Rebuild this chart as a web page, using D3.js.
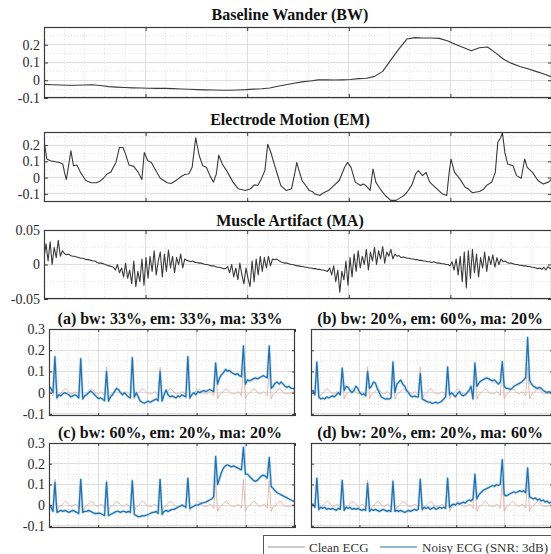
<!DOCTYPE html>
<html><head><meta charset="utf-8">
<script src="https://cdn.jsdelivr.net/npm/d3@7"></script>
<style>body{margin:0;background:#fff;}svg{display:block;}</style>
</head><body>
<svg id="c" width="551" height="554"></svg>
<script>
// ---------- DATA ----------
const titlesTop = ["Baseline Wander (BW)", "Electrode Motion (EM)", "Muscle Artifact (MA)"];
const titlesMix = ["(a) bw: 33%, em: 33%, ma: 33%", "(b) bw: 20%, em: 60%, ma: 20%",
                   "(c) bw: 60%, em: 20%, ma: 20%", "(d) bw: 20%, em: 20%, ma: 60%"];
const legendLabels = ["Clean ECG", "Noisy ECG (SNR: 3dB)"];
const noiseTicks = [-0.1, 0, 0.1, 0.2];
const maTicks = [-0.05, 0, 0.05];
const ecgTicks = [-0.1, 0, 0.1, 0.2, 0.3];
const timeTicks = [0, 1, 2, 3, 4, 5];

// Baseline wander, uniform samples over 0..5 s
const bwValues = [-0.023,-0.025,-0.027,-0.028,-0.028,-0.027,-0.025,-0.030,-0.036,-0.039,
 -0.041,-0.043,-0.044,-0.045,-0.046,-0.046,-0.047,-0.049,-0.051,-0.053,
 -0.054,-0.055,-0.056,-0.056,-0.055,-0.053,-0.050,-0.048,-0.044,-0.034,
 -0.025,-0.017,-0.009,-0.004,0.002,0.003,0.001,0.002,0.004,0.009,
 0.011,0.022,0.050,0.113,0.175,0.232,0.240,0.238,0.238,0.236,
 0.222,0.203,0.184,0.166,0.183,0.187,0.154,0.118,0.095,0.078,
 0.065,0.050,0.035,0.018];

// Electrode motion, (time s, value)
const emTime = [0,0.028,0.063,0.150,0.185,0.202,0.220,0.265,0.290,0.324,0.359,0.412,0.464,0.516,0.550,0.586,0.620,0.656,0.708,0.743,0.778,0.803,
 0.837,0.883,0.928,0.963,0.987,1.022,1.057,1.092,1.144,1.214,1.250,1.284,1.320,1.354,1.390,1.424,1.458,1.493,1.528,1.563,1.598,1.633,1.668,
 1.696,1.720,1.755,1.807,1.860,1.912,1.982,2.034,2.069,2.104,2.139,2.174,2.202,2.233,2.261,2.296,2.331,2.383,2.436,2.470,
 2.488,2.505,2.540,2.610,2.640,2.662,2.715,2.740,2.767,2.800,2.837,2.906,2.959,2.987,3.022,3.064,3.116,3.140,3.168,3.210,3.238,3.266,3.308,3.360,
 3.412,3.465,3.517,3.540,3.569,3.622,3.657,3.685,3.726,3.761,3.796,3.849,3.918,3.964,3.988,4.006,4.041,4.093,4.145,4.180,4.215,4.285,4.320,
 4.355,4.407,4.442,4.466,4.494,4.512,4.536,4.564,4.616,4.651,4.697,4.731,4.756,4.808,4.861,4.913,4.965,5.0];
const emValues = [0.225,0.114,0.103,0.093,0.083,0.032,-0.012,0.164,0.073,0.077,0.032,-0.018,-0.032,-0.032,-0.022,-0.004,0.022,0.032,0.093,0.185,0.185,0.144,
 0.077,0.069,0.032,-0.012,0.154,0.103,0.093,0.053,-0.004,-0.032,-0.036,-0.024,-0.008,0.008,0.020,0.022,0.063,0.245,0.134,0.073,0.063,0.012,-0.028,
 0.022,0.138,0.083,0.032,-0.028,-0.069,-0.079,-0.069,-0.045,-0.049,-0.008,0.043,0.205,0.154,0.093,0.022,-0.049,-0.079,-0.069,0.032,
 0.093,0.053,-0.018,-0.079,-0.085,-0.099,-0.110,-0.098,-0.089,-0.080,-0.059,-0.018,0.063,0.093,0.063,-0.028,-0.049,-0.040,-0.049,-0.079,0.053,-0.028,-0.069,-0.110,
 -0.140,-0.140,-0.120,-0.112,-0.093,-0.045,0.022,0.043,0.012,0.032,-0.028,-0.059,-0.099,-0.110,0.032,0.114,0.032,-0.008,-0.059,-0.072,-0.093,-0.085,-0.075,
 -0.049,-0.028,0.032,0.215,0.245,0.276,0.154,0.083,0.073,0.012,-0.004,0.114,0.063,0.032,-0.018,-0.039,-0.028,-0.008];

// Muscle artifact, uniform samples over 0..5 s
const maValues = [0.01,0.03,0.005,0.033,0.0,0.025,0.01,0.035,0.012,0.02,
 0.016,0.014,0.015,0.013,0.012,0.012,0.011,0.01,0.009,0.009,
 0.008,0.007,0.007,0.006,0.005,0.005,0.003,0.002,0.002,0.001,
 0.0,-0.001,-0.002,-0.003,-0.004,-0.008,0.0,-0.012,-0.005,-0.018,
 0.002,-0.02,-0.008,-0.028,0.005,-0.032,-0.01,-0.025,0.008,-0.03,
 0.01,-0.02,0.012,-0.01,0.02,-0.015,0.005,0.018,-0.018,0.015,
 -0.01,0.021,-0.005,0.012,-0.012,0.01,0.0,0.015,-0.005,0.008,
 0.006,0.005,0.004,0.005,0.003,0.003,0.002,0.002,0.001,0.0,
 0.0,-0.001,-0.002,-0.002,-0.003,-0.004,-0.004,-0.005,-0.006,-0.006,
 -0.003,-0.012,0.0,-0.018,-0.005,-0.022,0.002,-0.015,-0.028,-0.005,
 -0.02,-0.032,0.005,-0.025,0.008,-0.015,0.012,-0.01,0.01,-0.005,
 0.012,-0.002,0.008,0.007,0.008,0.006,0.004,0.003,0.002,0.002,
 0.001,0.0,0.0,-0.001,-0.002,-0.002,-0.003,-0.003,-0.004,-0.004,
 -0.005,-0.005,-0.006,-0.006,-0.007,-0.007,-0.008,-0.008,-0.009,-0.01,
 -0.005,-0.015,-0.002,-0.025,-0.008,-0.04,-0.01,-0.022,0.005,-0.03,
 0.01,-0.018,0.015,-0.01,0.02,-0.005,0.012,0.0,0.022,-0.008,
 0.018,0.005,0.025,0.0,0.02,0.008,0.026,0.002,0.018,0.012,
 0.022,0.008,0.015,0.012,0.013,0.01,0.011,0.01,0.009,0.009,
 0.008,0.008,0.007,0.007,0.006,0.006,0.005,0.005,0.004,0.004,
 0.003,0.004,0.003,0.002,0.002,0.001,0.001,0.0,0.0,-0.002,
 0.004,-0.008,0.008,-0.015,0.012,-0.025,0.018,-0.034,0.02,-0.02,
 0.022,-0.012,0.015,-0.018,0.01,-0.005,0.018,-0.01,0.012,0.0,
 0.014,-0.004,0.01,0.0,0.008,0.004,0.005,0.003,0.002,0.002,
 0.001,0.0,0.0,-0.001,-0.001,-0.002,-0.002,-0.003,-0.003,-0.004,
 -0.004,-0.005,-0.006,-0.005,-0.007,-0.004,-0.008,-0.003,-0.006,-0.005];

// Clean ECG, uniform samples over 0..5 s (same in all four mixes)
const cleanEcg = [0.005,0.0,-0.015,0.125,-0.03,-0.008,-0.003,0.008,0.018,0.015,0.002,-0.005,-0.005,
 0.005,0.0,-0.015,0.12,-0.03,-0.008,-0.003,0.008,0.018,0.015,0.002,-0.005,-0.005,
 0.005,0.0,-0.015,0.122,-0.03,-0.008,-0.003,0.008,0.018,0.015,0.002,-0.005,-0.005,
 0.005,0.0,-0.015,0.124,-0.03,-0.008,-0.003,0.008,0.018,0.015,0.002,-0.005,-0.005,-0.005,
 0.005,0.0,-0.015,0.12,-0.03,-0.008,-0.003,0.008,0.018,0.015,0.002,-0.005,-0.005,-0.005,
 0.005,0.0,-0.015,0.126,-0.03,-0.008,-0.003,0.008,0.018,0.015,0.002,-0.005,-0.005,-0.005,
 0.005,0.0,-0.015,0.122,-0.03,-0.008,-0.003,0.008,0.018,0.015,0.002,-0.005,-0.005,-0.005,
 0.005,0.0,-0.015,0.124,-0.03,-0.008,-0.003,0.008,0.018,0.015,0.002,-0.005,-0.005,
 0.005,0.0,-0.015,0.12,-0.03,-0.008,-0.003,0.008,0.018,0.015,0.002,-0.005,-0.005,-0.005,-0.005,
 0.005,0.0];

const noisyA = [0.03,0.02,0.0,0.17,-0.025,-0.01,-0.015,-0.005,0.0,-0.005,
 -0.01,-0.02,-0.015,-0.01,-0.015,-0.025,0.16,-0.03,-0.015,-0.01,
 0.0,0.008,0.0,-0.01,-0.02,-0.028,-0.025,-0.03,-0.038,0.1,
 -0.04,-0.02,-0.01,0.005,0.02,0.015,0.0,-0.01,0.0,-0.01,
 -0.02,-0.025,0.165,-0.02,0.0,-0.02,-0.04,-0.045,-0.05,-0.045,
 -0.04,-0.045,-0.04,-0.035,-0.03,-0.038,0.1,-0.04,-0.01,0.012,
 -0.01,-0.02,-0.015,-0.02,-0.025,-0.015,-0.02,-0.01,-0.015,-0.02,
 0.17,-0.025,-0.01,0.0,-0.01,0.005,0.0,0.005,0.01,0.005,
 0.01,0.015,0.01,0.005,0.14,0.04,0.07,0.085,0.095,0.11,
 0.1,0.105,0.095,0.09,0.085,0.09,0.08,0.075,0.22,0.04,
 0.06,0.055,0.06,0.065,0.07,0.065,0.07,0.075,0.08,0.075,
 0.07,0.22,0.02,0.03,0.045,0.05,0.04,0.05,0.04,0.03,
 0.025,0.03,0.02,0.02,0.015];
const noisyB = [0.0,0.01,-0.01,0.145,-0.02,-0.03,-0.025,-0.03,-0.02,-0.025,
 -0.02,-0.015,-0.02,-0.01,0.0,-0.01,0.115,0.01,0.03,0.025,
 0.01,0.0,0.01,0.03,0.02,0.0,-0.01,-0.005,-0.015,0.1,
 0.02,0.03,0.05,0.045,0.02,0.0,-0.02,-0.025,-0.03,-0.028,
 -0.03,-0.025,0.145,0.0,0.04,0.05,0.06,0.04,0.03,0.01,
 0.0,-0.015,-0.02,-0.015,-0.02,-0.02,0.09,-0.03,-0.035,-0.04,
 -0.045,-0.045,-0.05,-0.048,-0.045,-0.05,-0.045,-0.04,-0.03,-0.02,
 0.12,-0.01,0.0,-0.01,-0.02,-0.005,0.005,-0.01,-0.015,-0.01,
 0.0,0.01,0.03,-0.03,0.14,0.03,0.045,0.055,0.06,0.065,
 0.07,0.065,0.06,0.055,0.06,0.05,0.04,0.05,0.146,0.03,
 0.02,0.02,0.015,0.02,0.03,0.035,0.04,0.045,0.05,0.06,
 0.07,0.26,0.06,0.04,0.03,0.025,0.02,0.025,0.02,0.01,
 0.005,0.0,0.005,0.0,0.0];
const noisyC = [0.0,-0.01,-0.03,0.11,-0.035,-0.03,-0.025,-0.03,-0.025,-0.03,
 -0.035,-0.03,-0.025,-0.03,-0.035,-0.04,0.125,-0.035,-0.03,-0.03,
 -0.025,-0.03,-0.035,-0.04,-0.04,-0.038,-0.04,-0.045,-0.05,0.11,
 -0.05,-0.045,-0.04,-0.035,-0.03,-0.03,-0.035,-0.03,-0.03,-0.035,
 -0.03,-0.035,0.117,-0.045,-0.05,-0.055,-0.055,-0.05,-0.052,-0.048,
 -0.045,-0.04,-0.035,-0.035,-0.03,-0.04,0.125,-0.045,-0.03,-0.025,
 -0.03,-0.025,-0.02,-0.02,-0.015,-0.01,-0.005,0.0,-0.005,-0.01,
 0.13,-0.015,-0.01,-0.005,0.0,0.0,0.005,0.01,0.012,0.015,
 0.02,0.025,0.03,0.04,0.235,0.1,0.13,0.16,0.18,0.19,
 0.195,0.19,0.185,0.19,0.185,0.18,0.175,0.17,0.28,0.15,
 0.15,0.14,0.13,0.12,0.115,0.12,0.13,0.14,0.145,0.14,
 0.13,0.23,0.09,0.08,0.07,0.06,0.055,0.05,0.045,0.04,
 0.035,0.03,0.025,0.02,0.02];
const noisyD = [0.0,0.005,-0.01,0.13,-0.02,-0.01,-0.015,-0.01,-0.02,-0.015,
 -0.02,-0.015,-0.02,-0.025,-0.015,-0.02,0.12,-0.025,-0.01,-0.015,
 -0.01,-0.02,-0.015,-0.02,-0.015,-0.02,-0.025,-0.02,-0.025,0.105,
 -0.03,-0.02,-0.025,-0.02,-0.025,-0.03,-0.025,-0.02,-0.025,-0.03,
 -0.025,-0.03,0.115,-0.03,-0.025,-0.03,-0.025,-0.03,-0.035,-0.03,
 -0.025,-0.03,-0.025,-0.02,-0.025,-0.02,0.125,-0.02,-0.01,-0.015,
 -0.01,-0.02,-0.015,-0.01,-0.02,-0.015,-0.01,-0.015,-0.01,-0.015,
 0.13,-0.01,0.0,0.005,0.0,0.01,0.005,0.01,0.015,0.01,
 0.02,0.025,0.02,0.03,0.15,0.03,0.05,0.06,0.07,0.075,
 0.08,0.085,0.09,0.095,0.09,0.1,0.095,0.1,0.22,0.05,
 0.045,0.05,0.055,0.06,0.065,0.06,0.065,0.07,0.065,0.07,
 0.06,0.18,0.04,0.035,0.03,0.035,0.025,0.03,0.02,0.025,
 0.015,0.02,0.01,0.015,0.01];

// ---------- DRAWING ----------
const svg = d3.select("#c");
const SERIF = "'Liberation Serif','Times New Roman',serif";
let clipN = 0;
const fmt = d => (d === 0 ? "0" : String(d));

function panel(o) {
  const xs = d3.scaleLinear().domain([0, 5]).range([o.x0, o.x1]);
  const ys = d3.scaleLinear().domain(o.yDom).range([o.y1, o.y0]);
  const g = svg.append("g");
  const cid = "clip" + (++clipN);
  svg.append("clipPath").attr("id", cid).append("rect")
    .attr("x", o.x0).attr("y", o.y0).attr("width", o.x1 - o.x0).attr("height", o.y1 - o.y0);

  // minor grid
  const xMinor = d3.range(0, 5.001, 0.2).filter(v => Math.abs(v - Math.round(v)) > 1e-6);
  const yStep = o.yMinorStep;
  const yMinor = d3.range(Math.ceil(o.yDom[0] / yStep) * yStep, o.yDom[1] + 1e-9, yStep)
    .filter(v => !o.yTicks.some(t => Math.abs(t - v) < 1e-6));
  g.append("g").selectAll("line").data(xMinor).join("line")
    .attr("x1", d => xs(d)).attr("x2", d => xs(d)).attr("y1", o.y0).attr("y2", o.y1)
    .attr("stroke", "#e6e6e6").attr("stroke-dasharray", "1,2").attr("shape-rendering", "crispEdges");
  g.append("g").selectAll("line").data(yMinor).join("line")
    .attr("y1", d => ys(d)).attr("y2", d => ys(d)).attr("x1", o.x0).attr("x2", o.x1)
    .attr("stroke", "#e6e6e6").attr("stroke-dasharray", "1,2").attr("shape-rendering", "crispEdges");
  // major grid
  g.append("g").selectAll("line").data(timeTicks.slice(1, -1)).join("line")
    .attr("x1", d => xs(d)).attr("x2", d => xs(d)).attr("y1", o.y0).attr("y2", o.y1)
    .attr("stroke", "#dedede").attr("shape-rendering", "crispEdges");
  g.append("g").selectAll("line").data(o.yTicks).join("line")
    .attr("y1", d => ys(d)).attr("y2", d => ys(d)).attr("x1", o.x0).attr("x2", o.x1)
    .attr("stroke", "#dedede").attr("shape-rendering", "crispEdges");

  // series
  o.series.forEach(s => {
    const line = d3.line()
      .x((d, i) => xs(s.time ? s.time[i] : i * 5 / (s.values.length - 1)))
      .y(d => ys(d));
    if (s.halo) {
      g.append("path").datum(s.values).attr("d", line)
        .attr("fill", "none").attr("stroke", s.halo).attr("stroke-width", s.width + 1.6)
        .attr("stroke-opacity", 0.55).attr("stroke-linejoin", "round").attr("clip-path", `url(#${cid})`);
    }
    g.append("path").datum(s.values).attr("d", line)
      .attr("fill", "none").attr("stroke", s.color).attr("stroke-width", s.width)
      .attr("stroke-linejoin", "round").attr("clip-path", `url(#${cid})`);
  });

  // axes (ticks inside, all four sides)
  const tl = o.tickLen;
  const styleAxis = sel => {
    sel.select(".domain").remove();
    sel.selectAll("line").attr("stroke", "#3a3a3a");
    sel.selectAll("text").attr("font-family", SERIF).attr("font-size", 14).attr("fill", "#2a2a2a");
  };
  g.append("g").attr("transform", `translate(${o.x0},0)`)
    .call(d3.axisLeft(ys).tickValues(o.yTicks).tickSizeInner(-tl).tickSizeOuter(0).tickPadding(o.pad)
      .tickFormat(o.labels ? fmt : () => "")).call(styleAxis);
  g.append("g").attr("transform", `translate(${o.x1},0)`)
    .call(d3.axisRight(ys).tickValues(o.yTicks).tickSizeInner(-tl).tickSizeOuter(0).tickFormat(() => ""))
    .call(styleAxis);
  g.append("g").attr("transform", `translate(0,${o.y1})`)
    .call(d3.axisBottom(xs).tickValues(timeTicks).tickSizeInner(-tl).tickSizeOuter(0).tickFormat(() => ""))
    .call(styleAxis);
  g.append("g").attr("transform", `translate(0,${o.y0})`)
    .call(d3.axisTop(xs).tickValues(timeTicks).tickSizeInner(-tl).tickSizeOuter(0).tickFormat(() => ""))
    .call(styleAxis);

  // box
  g.append("rect").attr("x", o.x0 + 0.5).attr("y", o.y0 + 0.5)
    .attr("width", o.x1 - o.x0 - 1).attr("height", o.y1 - o.y0 - 1)
    .attr("fill", "none").attr("stroke", "#3a3a3a").attr("stroke-width", 1.2);

  // title
  svg.append("text").attr("x", o.titleX).attr("y", o.titleY).attr("text-anchor", "middle")
    .attr("font-family", SERIF).attr("font-weight", "bold").attr("font-size", 16).attr("fill", "#111")
    .text(o.title);
}

const noiseColor = "#3a3a3a";
const cleanColor = "#e0b3a8";
const noisyColor = "#2470ad";
const noisyHalo = "#9fd0ee";

panel({ x0: 44, x1: 552, y0: 27, y1: 98, yDom: [-0.1, 0.3], yTicks: noiseTicks, yMinorStep: 0.05,
  labels: true, pad: 4, tickLen: 4, title: titlesTop[0], titleX: 290, titleY: 20,
  series: [{ values: bwValues, color: noiseColor, width: 1.1 }] });
panel({ x0: 44, x1: 552, y0: 132, y1: 202, yDom: [-0.15, 0.28], yTicks: noiseTicks, yMinorStep: 0.05,
  labels: true, pad: 4, tickLen: 4, title: titlesTop[1], titleX: 290, titleY: 125,
  series: [{ time: emTime, values: emValues, color: noiseColor, width: 1.1 }] });
panel({ x0: 44, x1: 552, y0: 230, y1: 299, yDom: [-0.05, 0.05], yTicks: maTicks, yMinorStep: 0.025,
  labels: true, pad: 4, tickLen: 4, title: titlesTop[2], titleX: 290, titleY: 226,
  series: [{ values: maValues, color: noiseColor, width: 1.1 }] });

const mixes = [noisyA, noisyB, noisyC, noisyD];
mixes.forEach((vals, k) => {
  const left = k % 2 === 0;
  const top = k < 2;
  const x0 = left ? 49 : 311, x1 = left ? 295 : 553;
  const y0 = top ? 329 : 443, y1 = top ? 416 : 528;
  panel({ x0, x1, y0, y1, yDom: [-0.11, 0.3], yTicks: ecgTicks, yMinorStep: 0.05,
    labels: left, pad: 4, tickLen: 3, title: titlesMix[k], titleX: (x0 + x1) / 2 - 2, titleY: top ? 324 : 438,
    series: [{ values: cleanEcg, color: cleanColor, width: 0.9 },
             { values: vals, color: noisyColor, width: 1.3, halo: noisyHalo }] });
});

// legend
const lg = svg.append("g");
lg.append("rect").attr("x", 263.5).attr("y", 535.5).attr("width", 300).attr("height", 30)
  .attr("fill", "#fff").attr("stroke", "#555");
const legendItems = [
  { label: legendLabels[0], color: "#9a9a9a", lx: 268, tx: 309 },
  { label: legendLabels[1], color: noisyColor, lx: 380, tx: 422 }
];
legendItems.forEach(it => {
  lg.append("line").attr("x1", it.lx).attr("x2", it.lx + 37).attr("y1", 547).attr("y2", 547)
    .attr("stroke", it.color).attr("stroke-width", 1.2);
  lg.append("text").attr("x", it.tx).attr("y", 551.5).attr("font-family", SERIF).attr("font-size", 13)
    .attr("fill", "#333").text(it.label);
});
</script>
</body></html>
